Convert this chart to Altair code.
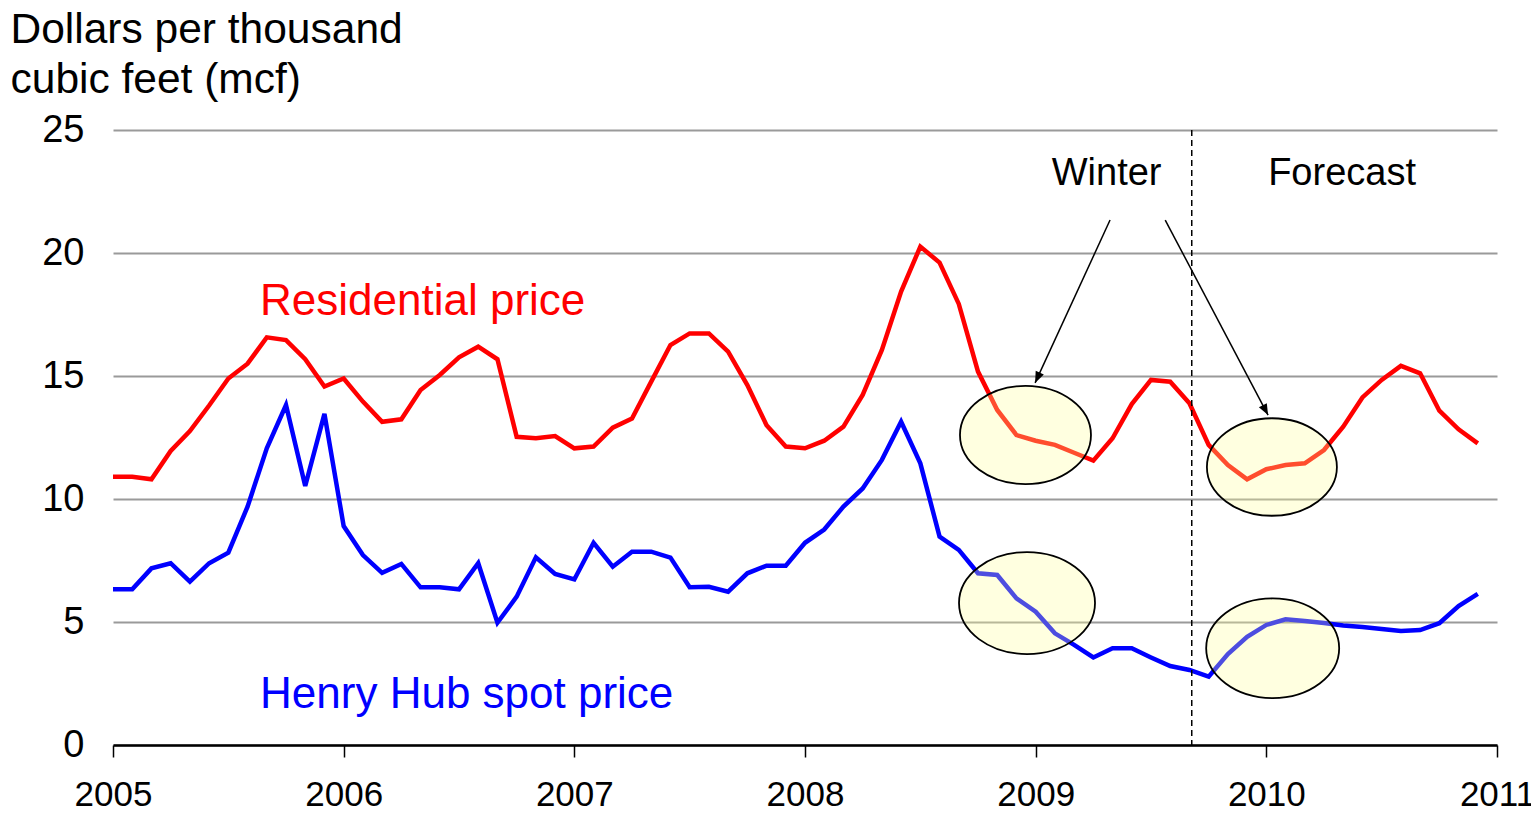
import math
import altair as alt
import pandas as pd

# ---------------- data (monthly, Jan 2005 = 0) ----------------
months = list(range(72))
residential = [10.9, 10.9, 10.8, 11.95, 12.76, 13.8, 14.9, 15.5, 16.57, 16.46, 15.68, 14.57,
               14.9, 13.96, 13.14, 13.24, 14.43, 15.04, 15.76, 16.19, 15.68, 12.53, 12.47, 12.56,
               12.06, 12.13, 12.9, 13.27, 14.77, 16.26, 16.73, 16.73, 15.99, 14.63, 13.0, 12.13,
               12.06, 12.37, 12.94, 14.23, 16.06, 18.43, 20.26, 19.61, 17.93, 15.18, 13.62, 12.6,
               12.37, 12.2, 11.88, 11.56, 12.47, 13.86, 14.84, 14.77, 13.89, 12.2, 11.38, 10.8,
               11.21, 11.38, 11.45, 11.99, 12.94, 14.13, 14.84, 15.41, 15.11, 13.59, 12.83, 12.26]
henry_hub = [6.33, 6.33, 7.18, 7.39, 6.64, 7.39, 7.82, 9.69, 12.06, 13.82, 10.53, 13.46,
             8.9, 7.72, 7.0, 7.36, 6.41, 6.41, 6.33, 7.39, 4.97, 6.03, 7.63, 6.95,
             6.73, 8.22, 7.25, 7.86, 7.86, 7.62, 6.41, 6.43, 6.23, 6.98, 7.29, 7.29,
             8.22, 8.76, 9.69, 10.43, 11.59, 13.14, 11.45, 8.47, 7.93, 6.98, 6.91, 5.96,
             5.42, 4.54, 4.07, 3.56, 3.93, 3.93, 3.56, 3.21, 3.05, 2.78, 3.7, 4.4,
             4.88, 5.11, 5.04, 4.96, 4.86, 4.8, 4.72, 4.63, 4.67, 4.95, 5.65, 6.14]
series_names = ["Residential price", "Henry Hub spot price"]
series_colors = ["#ff0000", "#0000ff"]

year_ticks = [0, 12, 24, 36, 48, 60, 72]
y_ticks = [0, 5, 10, 15, 20, 25]

label_x = [7.65, 7.65]
label_y = [17.48, 1.52]

note_text = ["Winter", "Forecast"]
note_x = [51.69, 63.94]
note_y = [22.76, 22.76]

forecast_start = [56.12]

ellipse_x = [47.47, 47.55, 60.29, 60.33]
ellipse_y = [12.60, 5.77, 11.30, 3.93]
ellipse_w = [131, 136, 130, 133]

arrow_x = [51.87, 54.74]
arrow_y = [21.34, 21.34]
arrow_x2 = [47.97, 60.09]
arrow_y2 = [14.72, 13.41]

# ---------------- layout ----------------
W, H = 1384, 615
PX_MONTH = W / 72.0
PX_UNIT = H / 25.0
FONT = "Liberation Sans"

lines_df = pd.DataFrame({
    "m": months * 2,
    "v": residential + henry_hub,
    "s": [series_names[0]] * 72 + [series_names[1]] * 72,
})
labels_df = pd.DataFrame({"t": series_names, "x": label_x, "y": label_y})
notes_df = pd.DataFrame({"t": note_text, "x": note_x, "y": note_y})
fc_df = pd.DataFrame({"x": forecast_start})
ell_df = pd.DataFrame({"x": ellipse_x, "y": ellipse_y,
                       "size": [w * w for w in ellipse_w]})
angles = []
for x1, y1, x2, y2 in zip(arrow_x, arrow_y, arrow_x2, arrow_y2):
    dx = (x2 - x1) * PX_MONTH
    dy = -(y2 - y1) * PX_UNIT
    angles.append(math.degrees(math.atan2(dx, -dy)) % 360)
arr_df = pd.DataFrame({"x": arrow_x, "y": arrow_y, "x2": arrow_x2, "y2": arrow_y2,
                       "angle": angles})

xscale = alt.Scale(domain=[0, 72], nice=False, zero=False)
yscale = alt.Scale(domain=[0, 25], nice=False)

color_scale = alt.Scale(domain=series_names, range=series_colors)

lines = alt.Chart(lines_df).mark_line(strokeWidth=4.5, strokeJoin="miter").encode(
    x=alt.X("m:Q", scale=xscale, title=None, axis=alt.Axis(
        values=year_ticks, labelExpr="toString(2005 + datum.value / 12)",
        title=None, grid=False, domain=True, domainColor="black", domainWidth=2.5,
        ticks=True, tickColor="black", tickWidth=1.5, tickSize=12,
        labelFontSize=35, labelColor="black", labelPadding=20, labelFont=FONT,
        labelFlush=False, labelOverlap=False)),
    y=alt.Y("v:Q", scale=yscale, title=["Dollars per thousand", "cubic feet (mcf)"],
            axis=alt.Axis(
        values=y_ticks, grid=True, gridColor="#9a9a9a", gridWidth=2,
        domain=False, ticks=False, labelFontSize=38, labelColor="black",
        labelPadding=29, labelFont=FONT,
        titleAngle=0,
        titleAlign="left", titleBaseline="alphabetic", titleX=-103, titleY=-88,
        titleFontSize=42.5, titleFontWeight="normal", titleFont=FONT,
        titleLineHeight=50, titleColor="black")),
    color=alt.Color("s:N", scale=color_scale, legend=None),
    detail="s:N",
)

fc_rule = alt.Chart(fc_df).mark_rule(color="black", strokeWidth=1.5, strokeDash=[6, 4]).encode(
    x=alt.X("x:Q", scale=xscale),
    y=alt.value(0), y2=alt.value(H + 5),
)

ellipse_path = "M -1 0 A 1 0.75 0 1 1 1 0 A 1 0.75 0 1 1 -1 0 Z"
ellipses = alt.Chart(ell_df).mark_point(
    shape=ellipse_path, filled=True, fill="#ffff99", fillOpacity=0.3,
    stroke="black", strokeWidth=1.8, strokeOpacity=1, opacity=1,
).encode(
    x=alt.X("x:Q", scale=xscale),
    y=alt.Y("y:Q", scale=yscale),
    size=alt.Size("size:Q", scale=None, legend=None),
)

arrow_lines = alt.Chart(arr_df).mark_rule(color="black", strokeWidth=1.5).encode(
    x=alt.X("x:Q", scale=xscale),
    y=alt.Y("y:Q", scale=yscale),
    x2="x2:Q", y2="y2:Q",
)
arrow_heads = alt.Chart(arr_df).mark_point(
    shape="M 0 0 L 0.4 1 L -0.4 1 Z", filled=True, color="black", opacity=1, size=500,
).encode(
    x=alt.X("x2:Q", scale=xscale),
    y=alt.Y("y2:Q", scale=yscale),
    angle=alt.Angle("angle:Q", scale=None),
)

series_labels = alt.Chart(labels_df).mark_text(
    align="left", baseline="alphabetic", fontSize=44, font=FONT,
).encode(
    x=alt.X("x:Q", scale=xscale),
    y=alt.Y("y:Q", scale=yscale),
    text="t:N",
    color=alt.Color("t:N", scale=color_scale, legend=None),
)

notes = alt.Chart(notes_df).mark_text(
    align="center", baseline="alphabetic", fontSize=38, font=FONT, color="black",
).encode(
    x=alt.X("x:Q", scale=xscale),
    y=alt.Y("y:Q", scale=yscale),
    text="t:N",
)

chart = alt.layer(
    lines, fc_rule, ellipses, arrow_lines, arrow_heads, series_labels, notes
).properties(
    width=W, height=H,
    autosize=alt.AutoSizeParams(type="none"),
    padding={"left": 105, "top": 122, "right": 34, "bottom": 67},
).configure(font=FONT, background="white").configure_view(stroke=None)

chart.save("out.html", embed_options={"renderer": "svg", "actions": False})
